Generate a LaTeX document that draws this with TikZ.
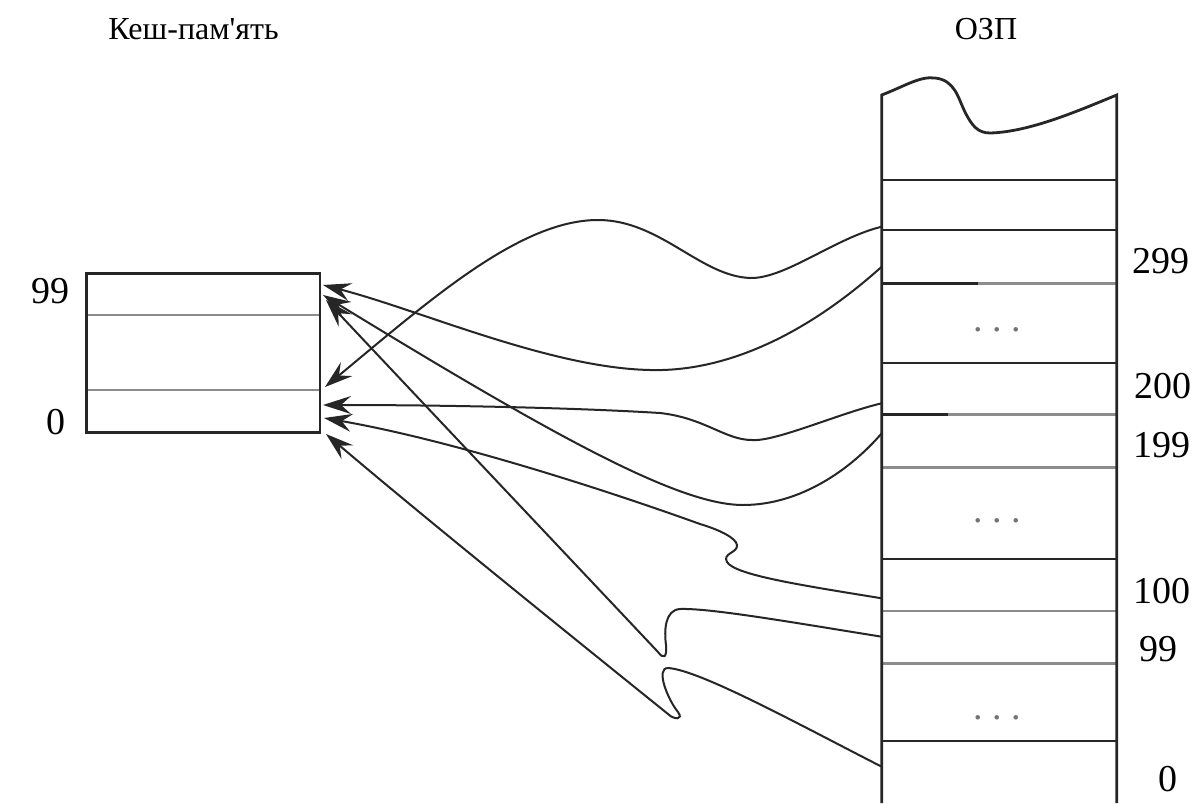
\documentclass[tikz,border=0pt]{standalone}
\usepackage{fontspec}
\setmainfont{Liberation Serif}
\usetikzlibrary{arrows.meta}
\begin{document}
\begin{tikzpicture}[x=1pt,y=-1pt,
  frame/.style={draw=black!85, line width=2.8pt},
  faint/.style={draw=black!45, line width=2.8pt},
  link/.style={draw=black!85, line width=2pt,
    -{Stealth[length=28pt,width=18pt,inset=10pt]}},
  title/.style={font=\fontsize{32}{38}\selectfont, inner sep=0pt, anchor=base},
  addr/.style={font=\fontsize{38}{44}\selectfont, inner sep=0pt},
  gap/.style={font=\fontsize{38}{44}\selectfont, inner sep=0pt, anchor=base, text=black!55}]
\useasboundingbox (0,0) rectangle (1198,803);
\fill[white] (0,0) rectangle (1198,803);

% headings
\node[title] (tcache) at (193.5,39) {Кеш-пам\textquotesingle ять};
\node[title] (tram) at (986,39) {ОЗП};

% cache block
\draw[faint] (86.7,315) -- (320,315);
\draw[faint] (86.7,390) -- (320,390);
\draw[frame] (86.7,273.3) rectangle (320,432.7);
\node[addr, anchor=base east] (c99) at (70,303) {99};
\node[addr, anchor=base] (c0) at (56,434) {0};

% main memory column with torn top
\foreach \yy in {467.3,611,663.3}
  \draw[faint] (881.7,\yy) -- (1116.7,\yy);
\draw[faint] (978,283.3) -- (1116.7,283.3);
\draw[faint] (948,414.3) -- (1116.7,414.3);
\foreach \yy in {180,230,363,559,741}
  \draw[frame] (881.7,\yy) -- (1116.7,\yy);
\draw[frame] (881.7,283.3) -- (978,283.3);
\draw[frame] (881.7,414.3) -- (948,414.3);
\draw[frame] (881.7,803) -- (881.7,95)
  .. controls (905,86) and (920,76) .. (935,78)
  .. controls (955,80) and (958,98) .. (965,112)
  .. controls (972,126) and (978,133) .. (990,133)
  .. controls (1030,132) and (1080,110) .. (1116.7,95)
  -- (1116.7,803);

\node[gap] (g1) at (997.5,331) {.\ .\ .};
\node[gap] (g2) at (997.5,522) {.\ .\ .};
\node[gap] (g3) at (997.5,719) {.\ .\ .};

\node[addr, anchor=base west] (a299) at (1132,273) {299};
\node[addr, anchor=base west] (a200) at (1134,398) {200};
\node[addr, anchor=base west] (a199) at (1133,457) {199};
\node[addr, anchor=base west] (a100) at (1133,603) {100};
\node[addr, anchor=base west] (a99) at (1139,661) {99};
\node[addr, anchor=base] (a0) at (1168,791) {0};

% connector ends on the memory column
\coordinate (src1) at (881.7,226.7);
\coordinate (src2) at (881.7,266.7);
\coordinate (src3) at (881.7,403.3);
\coordinate (src4) at (881.7,433.3);
\coordinate (src5) at (881.7,598.3);
\coordinate (src6) at (881.7,636.7);
\coordinate (src7) at (881.7,766.7);
% connector ends on the cache block
\coordinate (dst1) at (325,387);
\coordinate (dst2) at (323,285);
\coordinate (dst3) at (323,405);
\coordinate (dst4) at (323,295);
\coordinate (dst5) at (324,418);
\coordinate (dst6) at (326,300);
\coordinate (dst7) at (326,434);

\draw[link] (src1) .. controls (835,238) and (785,279) .. (750,278)
  .. controls (700,276) and (660,220) .. (598,220)
  .. controls (520,220) and (430,300) .. (dst1);
\draw[link] (src2) .. controls (800,340) and (720,372) .. (650,370)
  .. controls (550,368) and (420,310) .. (dst2);
\draw[link] (src3) .. controls (840,413) and (775,442) .. (752,440)
  .. controls (725,440) and (705,418) .. (660,413)
  .. controls (580,408) and (450,405) .. (dst3);
\draw[link] (src4) .. controls (850,470) and (800,505) .. (743,505)
  .. controls (680,505) and (560,440) .. (dst4);
\draw[link] (src5) .. controls (800,585) and (735,575) .. (727,562)
  .. controls (722,553) and (738,553) .. (737,545)
  .. controls (736,538) and (720,530) .. (700,524)
  .. controls (600,488) and (450,440) .. (dst5);
\draw[link] (src6) .. controls (790,622) and (710,608) .. (680,609)
  .. controls (665,610) and (664,630) .. (666,645)
  .. controls (667,657) and (664,660) .. (658,652)
  .. controls (560,548) and (420,400) .. (dst6);
\draw[link] (src7) .. controls (800,725) and (700,670) .. (668,668)
  .. controls (655,668) and (668,700) .. (678,712)
  .. controls (684,720) and (674,720) .. (668,714)
  .. controls (560,627) and (420,514) .. (dst7);
\end{tikzpicture}
\end{document}
